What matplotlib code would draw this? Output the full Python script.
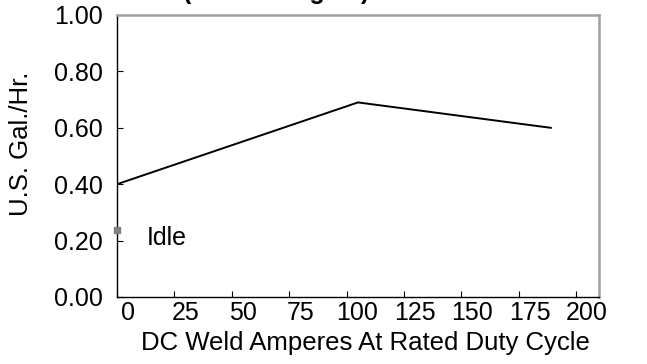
import matplotlib
matplotlib.use('Agg')
import matplotlib.pyplot as plt
import matplotlib.transforms as mtransforms

# valores
amperes = [0, 105, 189]
galones = [0.40, 0.69, 0.60]
idle_gal = 0.238
x_ticks = [0, 25, 50, 75, 100, 125, 150, 175, 200]
y_ticks = [0.0, 0.2, 0.4, 0.6, 0.8, 1.0]
titulo = "(Kohler Engine)"

plt.rcParams['font.family'] = ['Liberation Sans', 'DejaVu Sans']

fig = plt.figure(figsize=(6.47, 3.64), dpi=100)
ax = fig.add_axes([117 / 647, 67 / 364, 482 / 647, 282 / 364])

ax.plot(amperes, galones, color='black', linewidth=1.4)
ax.plot([0], [idle_gal], marker='s', markersize=4, color='#808080',
        clip_on=False, zorder=5)
ax.text(13, idle_gal - 0.03, "Idle", fontsize=18, va='center', ha='left')

ax.set_xlim(0, 210)
ax.set_ylim(0, 1.0)
ax.set_xticks(x_ticks)
ax.set_yticks(y_ticks)
ax.set_yticklabels([f"{v:.2f}" for v in y_ticks])
ax.tick_params(direction='in', length=4, width=0.8, labelsize=18, color='black')
ax.tick_params(axis='y', pad=10)
ax.tick_params(axis='x', pad=3)

# etiquetas x desplazadas a la derecha como en el original
desplaz = mtransforms.ScaledTranslation(11 / 100, 0, fig.dpi_scale_trans)
for lab in ax.get_xticklabels():
    lab.set_transform(lab.get_transform() + desplaz)

ax.set_xlabel("DC Weld Amperes At Rated Duty Cycle", fontsize=18.5)
ax.xaxis.set_label_coords(0.516, -0.122)
ax.set_ylabel("U.S. Gal./Hr.", fontsize=18.5)
ax.yaxis.set_label_coords(-0.174, 0.543)

for lado in ['left', 'bottom']:
    ax.spines[lado].set_color('black')
    ax.spines[lado].set_linewidth(1.0)
for lado in ['top', 'right']:
    ax.spines[lado].set_color('#a0a0a0')
    ax.spines[lado].set_linewidth(1.8)

fig.text(276 / 647, 1 + 1 / 364, titulo, fontsize=18, fontweight='bold',
         ha='center', va='baseline')

fig.savefig('out.png', dpi=100)
